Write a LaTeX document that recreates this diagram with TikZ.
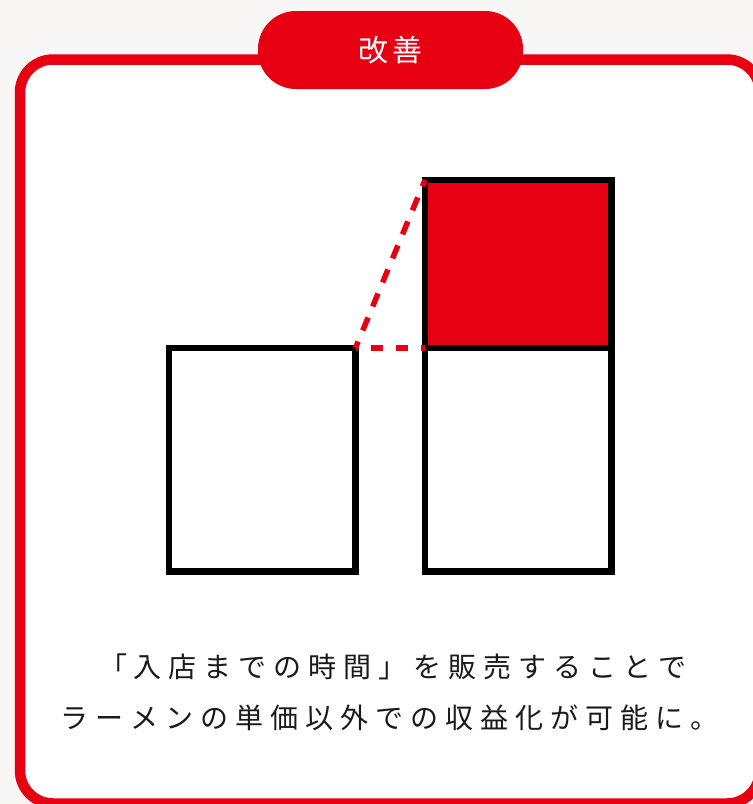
\documentclass[tikz,border=0pt]{standalone}
\usepackage{fontspec}
\newfontfamily\jp{Noto Sans CJK JP}
\definecolor{kred}{HTML}{E60012}
\definecolor{bgray}{HTML}{F8F7F5}
\definecolor{inkc}{HTML}{1A1A1A}
\makeatletter
\newcommand\pitched[2]{\@tfor\pch:=#2\do{\makebox[#1][c]{\pch}}}
\makeatother
\tikzset{
  frame/.style={draw=kred, line width=10.5pt, fill=white, rounded corners=33pt},
  pill/.style={fill=kred, rounded corners=38pt, minimum width=265pt, minimum height=78pt,
    inner sep=0pt, outer sep=0pt, text=white, font=\jp\fontsize{30pt}{34pt}\selectfont,
    text height=26.4pt, text depth=3.6pt},
  box/.style={draw=black, line width=6.5pt, minimum width=186.5pt, inner sep=0pt, outer sep=0pt},
  dashline/.style={draw=kred, line width=5.5pt},
  bodytext/.style={anchor=base, inner sep=0pt, text=inkc, font=\jp\fontsize{28pt}{32pt}\selectfont}
}
\begin{document}
\begin{tikzpicture}[x=1pt,y=-1pt]
\useasboundingbox (0,0) rectangle (753,804);
\clip (0,0) rectangle (753,804);
\fill[bgray] (0,0) rectangle (753,804);
\draw[frame] (20,59.5) rectangle (760,803.5);
\node[pill] (tag) at (390.5,50) {\pitched{34pt}{改善}};
\node[box, fill=kred, minimum height=168pt] (tsq) at (518.25,264) {};
\node[box, fill=white, minimum height=223.5pt] (rsq) at (518.25,459.75) {};
\node[box, fill=white, minimum height=223.5pt] (lsq) at (262.25,459.75) {};
\draw[dashline, dash pattern=on 12pt off 13pt, dash phase=9.5pt] (lsq.north east) -- (rsq.north west);
\draw[dashline, dash pattern=on 14pt off 12pt, dash phase=7pt] (lsq.north east) -- (tsq.north west);
\node[bodytext] (l1) at (393,677) {\pitched{35pt}{「入店までの時間」を販売することで}};
\node[bodytext] (l2) at (389.5,728) {\pitched{35pt}{ラーメンの単価以外での収益化が可能に。}};
\end{tikzpicture}
\end{document}
